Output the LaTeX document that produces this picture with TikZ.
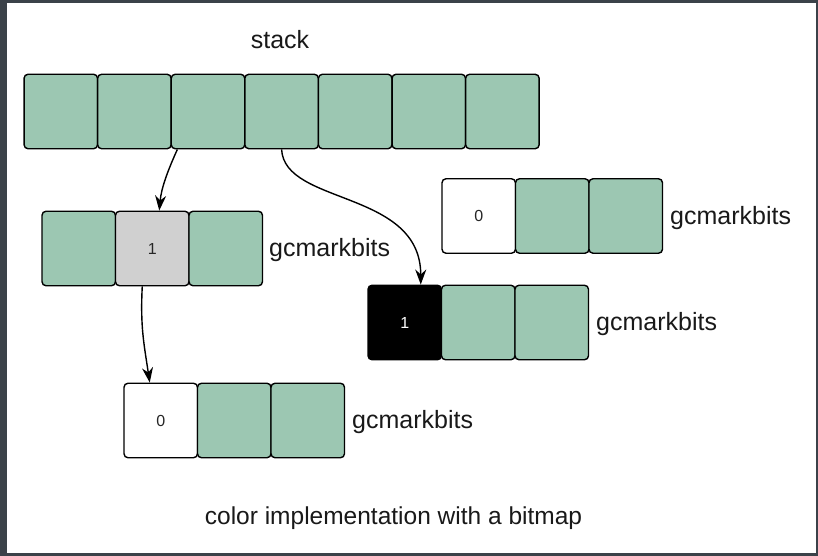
\documentclass[tikz,border=0pt]{standalone}
\usepackage{fontspec}
\setmainfont{Liberation Sans}
\usetikzlibrary{arrows.meta}

\definecolor{cellgreen}{HTML}{9CC7B2}
\definecolor{cellgray}{HTML}{D0D0D0}
\definecolor{framegray}{HTML}{3B4249}

\begin{document}
\begin{tikzpicture}[x=1pt, y=-1pt, every node/.style={rectangle, inner sep=0pt, font=\fontsize{25}{29}\selectfont, text=black!90}, cell/.style={draw, line width=1.4pt, rounded corners=4pt, minimum width=73.5pt, minimum height=74.5pt, fill=cellgreen, text=black!85, font=\fontsize{16}{19}\selectfont}, link/.style={-{Stealth[length=15pt,width=11pt]}, line width=1.4pt}]

% cornice
\fill[framegray] (0,0) rectangle (818,556);
\fill[white] (7,3) rectangle (816,553);

\node (stacklabel) at (280,40) {stack};

% stack
\node[cell] (s1) at (60.8,111.5) {};
\node[cell] (s2) at (134.4,111.5) {};
\node[cell] (s3) at (208.0,111.5) {};
\node[cell] (s4) at (281.6,111.5) {};
\node[cell] (s5) at (355.2,111.5) {};
\node[cell] (s6) at (428.8,111.5) {};
\node[cell] (s7) at (502.4,111.5) {};

% gcmarkbits
\node[cell] (r1a) at (78.75,248.5) {};
\node[cell, fill=cellgray] (r1b) at (152.25,248.5) {1};
\node[cell] (r1c) at (225.75,248.5) {};
\node[anchor=west] (r1label) at (269,250.5) {gcmarkbits};

\node[cell, fill=white] (r2a) at (478.75,216) {0};
\node[cell] (r2b) at (552.25,216) {};
\node[cell] (r2c) at (625.75,216) {};
\node[anchor=west] (r2label) at (670,218) {gcmarkbits};

\node[cell, fill=black, text=white] (r3a) at (404.75,322.5) {1};
\node[cell] (r3b) at (478.25,322.5) {};
\node[cell] (r3c) at (551.75,322.5) {};
\node[anchor=west] (r3label) at (596,324) {gcmarkbits};

\node[cell, fill=white] (r4a) at (160.75,420.5) {0};
\node[cell] (r4b) at (234.25,420.5) {};
\node[cell] (r4c) at (307.75,420.5) {};
\node[anchor=west] (r4label) at (352,422) {gcmarkbits};

\node[font=\fontsize{24.5}{29}\selectfont] (caption) at (393.5,518) {color implementation with a bitmap};

% Archi
\draw[link] ([xshift=6.8pt]s3.south west) .. controls +(-10,22) and +(2,-22) .. ([xshift=7pt]r1b.north);
\draw[link] (s4.south) .. controls +(3,56) and +(0,-95) .. ([xshift=16pt]r3a.north);
\draw[link] ([xshift=-10pt]r1b.south) .. controls +(-2,40) and +(-6,-40) .. ([xshift=-11pt]r4a.north);

\end{tikzpicture}
\end{document}
